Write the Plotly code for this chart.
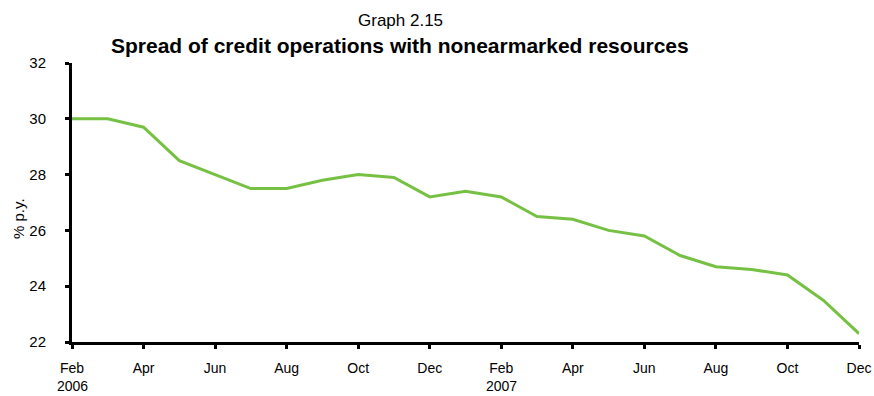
import plotly.graph_objects as go

# Monthly spread, Feb 2006 - Dec 2007 (% p.y.)
months = [
    "2006-02", "2006-03", "2006-04", "2006-05", "2006-06", "2006-07", "2006-08",
    "2006-09", "2006-10", "2006-11", "2006-12", "2007-01", "2007-02", "2007-03",
    "2007-04", "2007-05", "2007-06", "2007-07", "2007-08", "2007-09", "2007-10",
    "2007-11", "2007-12",
]
spread = [
    30.0, 30.0, 29.7, 28.5, 28.0, 27.5, 27.5, 27.8, 28.0, 27.9, 27.2, 27.4,
    27.2, 26.5, 26.4, 26.0, 25.8, 25.1, 24.7, 24.6, 24.4, 23.5, 22.3,
]
tick_months = ["2006-02", "2006-04", "2006-06", "2006-08", "2006-10", "2006-12",
               "2007-02", "2007-04", "2007-06", "2007-08", "2007-10", "2007-12"]
tick_labels = ["Feb", "Apr", "Jun", "Aug", "Oct", "Dec",
               "Feb", "Apr", "Jun", "Aug", "Oct", "Dec"]
year_months = ["2006-02", "2007-02"]
year_labels = ["2006", "2007"]
y_ticks = [22, 24, 26, 28, 30, 32]

x_idx = list(range(len(months)))
tick_idx = [months.index(m) for m in tick_months]

W, H = 874, 396
ML, MR, MT, MB = 72, 15, 63, 54
plot_w = W - ML - MR
plot_h = H - MT - MB


def px_x(px):
    return (px - ML) / plot_w


def px_y(py):
    return (H - MB - py) / plot_h


fig = go.Figure()
fig.add_trace(go.Scatter(
    x=x_idx, y=spread, mode="lines",
    line=dict(color="#76C043", width=3),
    hoverinfo="skip", showlegend=False,
))

font_family = "Liberation Sans, Arial, sans-serif"

annotations = [
    dict(text="Graph 2.15", x=px_x(400), y=px_y(20),
         xref="paper", yref="paper", showarrow=False,
         xanchor="center", yanchor="middle", font=dict(size=17)),
    dict(text="<b>Spread of credit operations with nonearmarked resources</b>",
         x=px_x(400), y=px_y(45), xref="paper", yref="paper",
         showarrow=False, xanchor="center", yanchor="middle",
         font=dict(size=21)),
    dict(text="% p.y.", x=px_x(18), y=px_y(218), xref="paper", yref="paper",
         showarrow=False, textangle=-90, xanchor="center", yanchor="middle",
         font=dict(size=15)),
]
# Year labels under the first month of each year
for m, lab in zip(year_months, year_labels):
    annotations.append(dict(
        text=lab, x=months.index(m), y=px_y(386), xref="x", yref="paper",
        showarrow=False, xanchor="center", yanchor="middle",
        borderpad=0, font=dict(size=14),
    ))

fig.update_layout(
    width=W, height=H,
    margin=dict(l=ML, r=MR, t=MT, b=MB),
    paper_bgcolor="white", plot_bgcolor="white",
    font=dict(family=font_family, size=15, color="black"),
    xaxis=dict(
        range=[x_idx[0], x_idx[-1]],
        tickmode="array", tickvals=tick_idx, ticktext=tick_labels,
        showgrid=False, zeroline=False, automargin=False,
        showline=True, linecolor="black", linewidth=3,
        ticks="outside", ticklen=4, tickwidth=3, tickcolor="black",
        ticklabelstandoff=7,
        tickfont=dict(size=14),
    ),
    yaxis=dict(
        range=[22, 32],
        tickmode="array", tickvals=y_ticks,
        showgrid=False, zeroline=False, automargin=False,
        showline=True, linecolor="black", linewidth=3,
        ticks="outside", ticklen=4, tickwidth=3, tickcolor="black",
        ticklabelstandoff=16,
        tickfont=dict(size=15),
    ),
    annotations=annotations,
)

fig.write_html("out.html")
